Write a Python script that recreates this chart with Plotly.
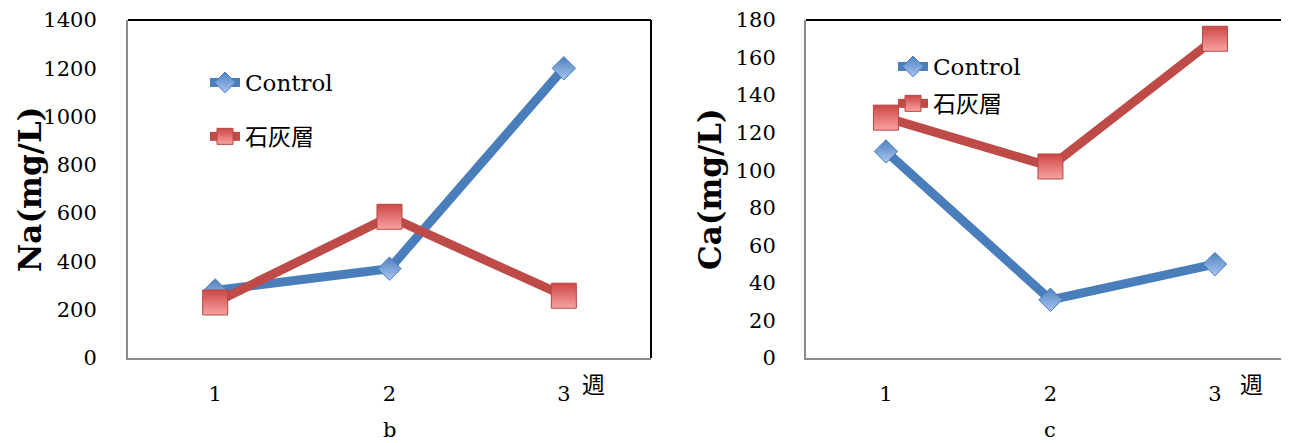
import plotly.graph_objects as go

weeks = [1, 2, 3]
week_labels = ["1", "2", "3"]
series_names = ["Control", "石灰層"]
na_control = [280, 370, 1200]
na_lime = [230, 585, 258]
ca_control = [110, 31, 50]
ca_lime = [128, 102, 170]
na_ticks = [0, 200, 400, 600, 800, 1000, 1200, 1400]
ca_ticks = [0, 20, 40, 60, 80, 100, 120, 140, 160, 180]

PAGE_W, PAGE_H = 1289, 443
OFF = 8  # default body margin of the html page
W, H = PAGE_W - OFF, PAGE_H - OFF
SERIF = "DejaVu Serif"
LEG = "DejaVu Serif, Noto Sans CJK JP"
CJK = "Noto Sans CJK JP"

BLUE_LINE = "#4a7ebb"
RED_LINE = "#be4b48"

def px_x(p):
    return (p - OFF) / W

def px_y(p):
    return 1 - (p - OFF) / H

fig = go.Figure()

def add_series(xaxis, yaxis, yvals, name, legend, kind, group):
    if kind == "blue":
        line = dict(color=BLUE_LINE, width=9)
        marker = dict(symbol="diamond", size=18, color="#4f81bd",
                      gradient=dict(type="vertical", color="#a9c6f2"),
                      line=dict(color=BLUE_LINE, width=1))
    else:
        line = dict(color=RED_LINE, width=9)
        marker = dict(symbol="square", size=25, color="#cd4744",
                      gradient=dict(type="vertical", color="#f9a3a3"),
                      line=dict(color="#b84643", width=1))
    fig.add_trace(go.Scatter(x=weeks, y=yvals, name=name, mode="lines+markers",
                             line=line, marker=marker, xaxis=xaxis, yaxis=yaxis,
                             legend=legend, legendgroup=group))

add_series("x", "y", na_control, series_names[0], "legend", "blue", "a1")
add_series("x", "y", na_lime, series_names[1], "legend", "red", "a2")
add_series("x2", "y2", ca_control, series_names[0], "legend2", "blue", "b1")
add_series("x2", "y2", ca_lime, series_names[1], "legend2", "red", "b2")

top_px, bot_px = 20, 358
ydom = [px_y(bot_px), px_y(top_px)]

axis_common = dict(showgrid=False, zeroline=False, ticks="", showline=True,
                   linecolor="#8c8c8c", linewidth=2, automargin=False,
                   tickfont=dict(family=SERIF, size=21, color="black"))

fig.update_layout(
    template="none",
    width=W, height=H, margin=dict(l=0, r=0, t=0, b=0, autoexpand=False),
    paper_bgcolor="white", plot_bgcolor="white", showlegend=True,
    xaxis=dict(domain=[px_x(128), px_x(651)], range=[0.5, 3.5],
               tickvals=weeks, ticktext=week_labels, ticklabelstandoff=16, anchor="y",
               **axis_common),
    yaxis=dict(domain=ydom, range=[0, 1400], tickvals=na_ticks, anchor="x",
               ticklabelstandoff=25, **axis_common),
    xaxis2=dict(domain=[px_x(806), 1.0], range=[0.514, 3.45],
                tickvals=weeks, ticktext=week_labels, ticklabelstandoff=16, anchor="y2",
                **axis_common),
    yaxis2=dict(domain=ydom, range=[0, 180], tickvals=ca_ticks, anchor="x2",
                ticklabelstandoff=24, **axis_common),
    legend=dict(x=px_x(205), y=px_y(61), xanchor="left", yanchor="top",
                bgcolor="rgba(0,0,0,0)", font=dict(family=LEG, size=23, color="black"),
                tracegroupgap=21, traceorder="grouped"),
    legend2=dict(x=px_x(893), y=px_y(45), xanchor="left", yanchor="top",
                 bgcolor="rgba(0,0,0,0)", font=dict(family=LEG, size=23, color="black"),
                 tracegroupgap=4, traceorder="grouped"),
)

# plot frame borders (black top / right)
fig.add_shape(type="line", xref="x domain", yref="y domain", x0=0, x1=1, y0=1, y1=1,
              line=dict(color="black", width=2))
fig.add_shape(type="line", xref="x domain", yref="y domain", x0=1, x1=1, y0=0, y1=1,
              line=dict(color="black", width=2))
fig.add_shape(type="line", xref="x2 domain", yref="y2 domain", x0=0, x1=1, y0=1, y1=1,
              line=dict(color="black", width=2))

annos = [
    dict(text="Na(mg/L)", x=px_x(30), y=px_y(190), textangle=-90,
         font=dict(family=SERIF, size=31, color="black", weight="bold")),
    dict(text="Ca(mg/L)", x=px_x(710), y=px_y(189), textangle=-90,
         font=dict(family=SERIF, size=31, color="black", weight="bold")),
    dict(text="週", x=px_x(593), y=px_y(383), font=dict(family=CJK, size=23, color="black")),
    dict(text="週", x=px_x(1251), y=px_y(383), font=dict(family=CJK, size=23, color="black")),
    dict(text="b", x=px_x(389), y=px_y(430), font=dict(family=SERIF, size=21, color="black")),
    dict(text="c", x=px_x(1050), y=px_y(430), font=dict(family=SERIF, size=21, color="black")),
]
for a in annos:
    fig.add_annotation(xref="paper", yref="paper", showarrow=False,
                       xanchor="center", yanchor="middle", **a)

fig.write_html("out.html")
